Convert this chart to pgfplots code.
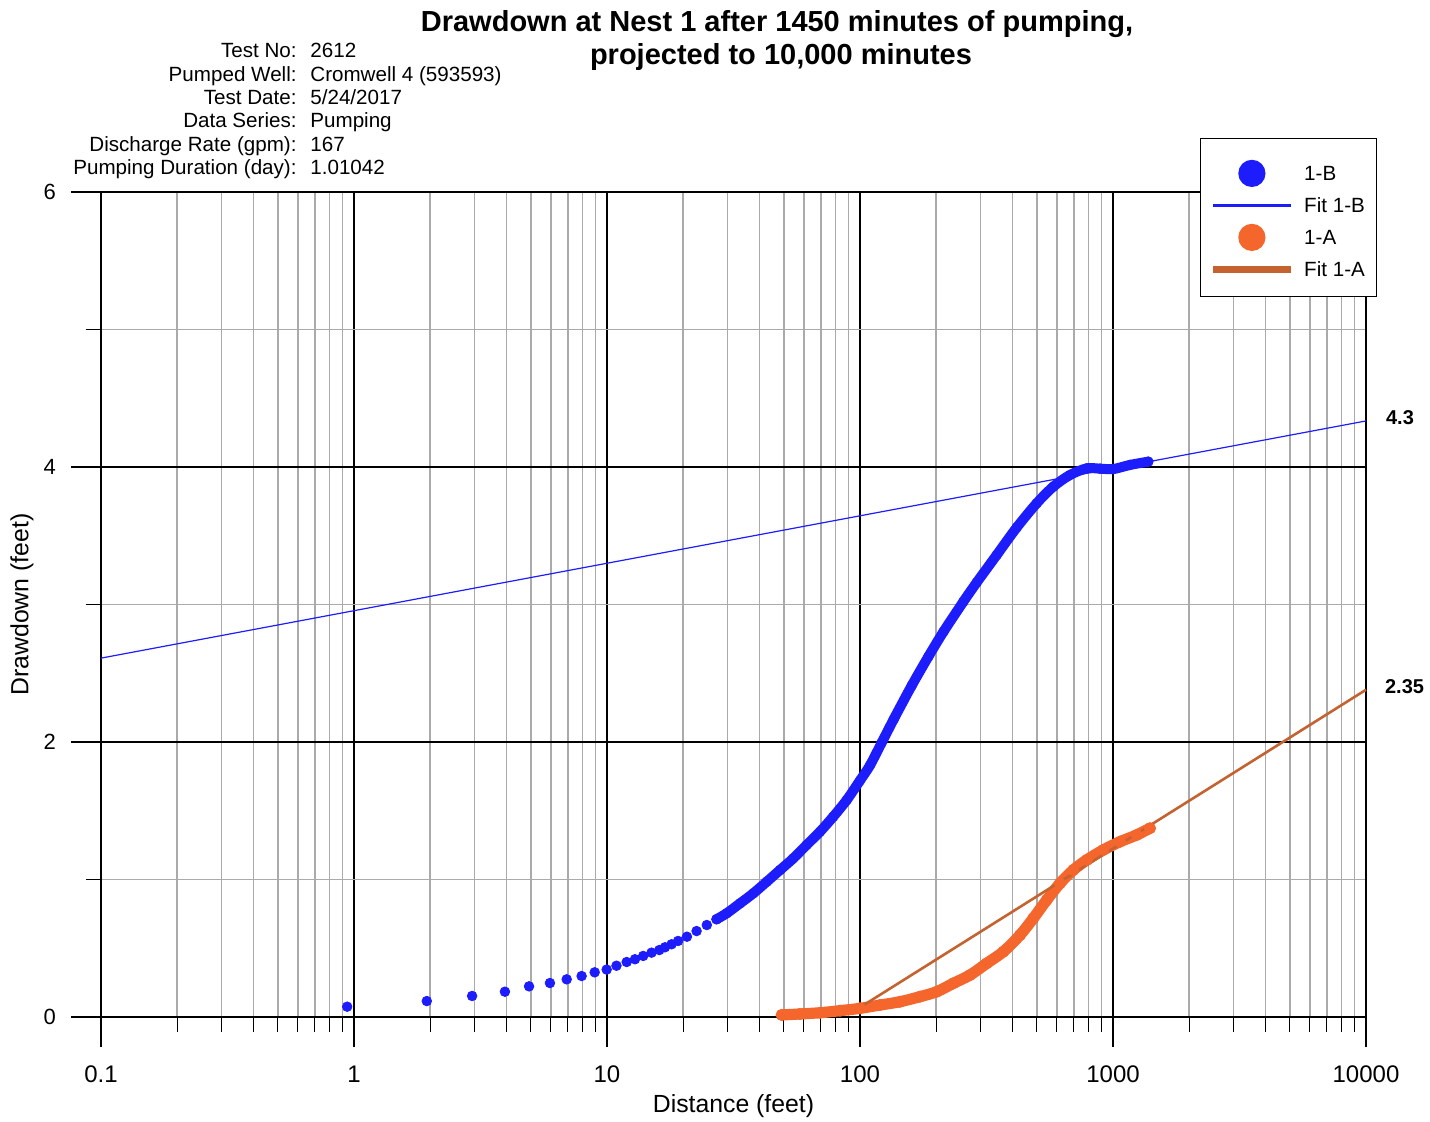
\documentclass[border=0pt]{standalone}
\usepackage{fontspec}
\setmainfont{Liberation Sans}
\usepackage{pgfplots}
\pgfplotsset{compat=1.18}
\usepackage{pgfplotstable}
\definecolor{blueA}{RGB}{28,28,252}
\definecolor{orangeA}{RGB}{245,102,45}
\definecolor{brownA}{RGB}{196,98,48}
\definecolor{gridgray}{RGB}{170,170,170}

\pgfplotstableread{
x y
0.94 0.075
1.94 0.116
2.93 0.153
3.95 0.184
4.92 0.223
5.95 0.247
6.93 0.274
7.94 0.298
8.94 0.325
9.97 0.345
10.9 0.373
11.96 0.400
12.9 0.420
13.9 0.444
15.0 0.468
16.1 0.487
16.95 0.507
18.0 0.529
19.1 0.553
20.7 0.584
22.6 0.625
24.8 0.669
27.1 0.711
}\blueSparse

\pgfplotstableread{
x y
27.1 0.711
29.7 0.754
33.6 0.827
37.9 0.900
42.8 0.984
48.3 1.069
54.5 1.154
61.5 1.251
69.5 1.348
78.4 1.457
88.6 1.578
100 1.72
109.5 1.83
121.8 1.995
136.3 2.17
160.1 2.41
186.2 2.62
213.4 2.80
256 3.02
289.2 3.16
347 3.36
416.3 3.56
499.3 3.736
580.8 3.857
676.1 3.942
787 3.990
888.6 3.988
1002 3.985
1167 4.015
1379 4.039
}\blueDense

\pgfplotstableread{
x y
49 0.015
57.9 0.022
69.5 0.031
83.4 0.046
100 0.063
120 0.087
143.9 0.111
172.7 0.148
201.1 0.184
233.8 0.245
272.2 0.305
316.8 0.390
368.6 0.475
429 0.596
484.2 0.718
547 0.851
617.3 0.972
696.7 1.069
787 1.142
915.6 1.215
1066 1.275
1241 1.324
1400 1.373
}\orangeData

\pgfplotstableread{
x y
0.1 2.61
10000 4.335
}\fitB

\pgfplotstableread{
x y
100 0.07
10000 2.38
}\fitA

\begin{document}
\begin{tikzpicture}
\useasboundingbox (-50.5pt,-52pt) rectangle (664.5pt,508.5pt);
\begin{axis}[
  at={(0pt,0pt)}, anchor=south west,
  scale only axis, width=632.5pt, height=412.5pt,
  xmode=log, xmin=0.1, xmax=10000, ymin=0, ymax=6,
  xtick={0.1,1,10,100,1000,10000},
  xticklabels={0.1,1,10,100,1000,10000},
  minor xtick={0.2,0.3,0.4,0.5,0.6,0.7,0.8,0.9,2,3,4,5,6,7,8,9,20,30,40,50,60,70,80,90,200,300,400,500,600,700,800,900,2000,3000,4000,5000,6000,7000,8000,9000},
  ytick={0,2,4,6}, yticklabels={0,2,4,6},
  minor ytick={1,3,5},
  grid=both,
  major grid style={black, line width=0.6pt},
  minor grid style={gridgray, line width=0.75pt},
  tick align=outside, tick pos=left,
  major tick length=15pt, minor tick length=7.5pt,
  every tick/.style={black, line width=0.6pt},
  every minor tick/.style={black, line width=0.6pt},
  axis line style={line width=0.6pt},
  xticklabel style={font=\fontsize{12}{14}\selectfont, yshift=-6pt},
  yticklabel style={font=\fontsize{11}{13}\selectfont, xshift=-4pt},
  xlabel={Distance (feet)},
  ylabel={Drawdown (feet)},
  xlabel style={at={(axis description cs:0.5,0)}, anchor=base, yshift=-47.5pt, font=\fontsize{12.4}{14}\selectfont},
  ylabel style={at={(axis description cs:0,0.5)}, anchor=center, yshift=39.5pt, font=\fontsize{12.4}{14}\selectfont},
  clip=false,
  legend style={at={(0.86877,1.06545)}, anchor=north west, draw=black, line width=0.6pt,
    inner xsep=6pt, inner ysep=5.6pt, column sep=6.5pt, row sep=0pt,
    font=\fontsize{10.3}{12}\selectfont,
    nodes={inner xsep=0pt, inner ysep=0pt, minimum height=16pt, text height=7.4pt, text depth=0pt}},
  legend cell align=left,
]
\addplot[only marks, mark=*, mark size=2.4pt, color=blueA,
  legend image code/.code={\fill[blueA] (19pt,0pt) circle (6.5pt); \path (19pt,11.5pt);}] table {\blueSparse};
\addlegendentry{1-B}
\addplot[color=blueA, line width=5pt, line cap=round, line join=round, smooth, tension=0.5, forget plot] table {\blueDense};
\addplot[only marks, mark=*, mark size=2.4pt, color=blueA, forget plot] table {\blueDense};
\addplot[color=blueA, line width=0.6pt,
  legend image code/.code={\fill[blueA] (0pt,-0.45pt) rectangle (38pt,0.45pt);}] table {\fitB};
\addlegendentry{Fit 1-B}
\addplot[only marks, mark=*, mark size=2.8pt, color=orangeA,
  legend image code/.code={\fill[orangeA] (19pt,0pt) circle (6.5pt);}] table {\orangeData};
\addlegendentry{1-A}
\addplot[color=orangeA, line width=5.6pt, line cap=round, line join=round, smooth, tension=0.5, forget plot] table {\orangeData};
\addplot[color=brownA, line width=1.3pt,
  legend image code/.code={\fill[brownA] (0pt,-1pt) rectangle (38pt,1pt);}] table {\fitA};
\addlegendentry{Fit 1-A}
\node[anchor=west, font=\bfseries\fontsize{10}{12}\selectfont, xshift=6.5pt] at (axis cs:10000,4.36) {4.3};
\node[anchor=west, font=\bfseries\fontsize{10}{12}\selectfont, xshift=6pt] at (axis cs:10000,2.40) {2.35};
\end{axis}
% title
\node[anchor=base, font=\bfseries\fontsize{14.5}{17}\selectfont] at (338pt,492.5pt) {Drawdown at Nest 1 after 1450 minutes of pumping,};
\node[anchor=base, font=\bfseries\fontsize{14.5}{17}\selectfont] at (340pt,476pt) {projected to 10,000 minutes};
% info block
\begin{scope}[every node/.style={font=\fontsize{10.3}{12}\selectfont, inner sep=0pt}]
\node[anchor=base east] at (98pt,479.5pt) {Test No:};
\node[anchor=base west] at (104.5pt,479.5pt) {2612};
\node[anchor=base east] at (98pt,467.85pt) {Pumped Well:};
\node[anchor=base west] at (104.5pt,467.85pt) {Cromwell 4 (593593)};
\node[anchor=base east] at (98pt,456.2pt) {Test Date:};
\node[anchor=base west] at (104.5pt,456.2pt) {5/24/2017};
\node[anchor=base east] at (98pt,444.55pt) {Data Series:};
\node[anchor=base west] at (104.5pt,444.55pt) {Pumping};
\node[anchor=base east] at (98pt,432.9pt) {Discharge Rate (gpm):};
\node[anchor=base west] at (104.5pt,432.9pt) {167};
\node[anchor=base east] at (98pt,421.25pt) {Pumping Duration (day):};
\node[anchor=base west] at (104.5pt,421.25pt) {1.01042};
\end{scope}
\end{tikzpicture}
\end{document}
